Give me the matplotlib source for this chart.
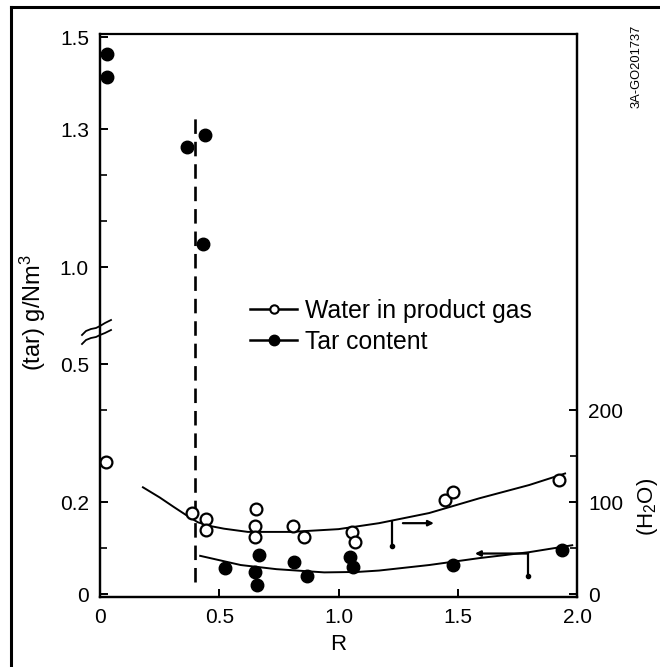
import numpy as np
import matplotlib
matplotlib.use("Agg")
import matplotlib.pyplot as plt
from matplotlib.lines import Line2D

plt.rcParams['font.family'] = ['Liberation Sans', 'DejaVu Sans']
plt.rcParams['mathtext.fontset'] = 'custom'
plt.rcParams['mathtext.rm'] = 'Liberation Sans'
plt.rcParams['mathtext.it'] = 'Liberation Sans:italic'
plt.rcParams['mathtext.default'] = 'regular'

# ---------------- data ----------------
# Water in product gas (open circles, right axis, H2O)
water_r = [0.025, 0.387, 0.444, 0.444, 0.654, 0.65, 0.65, 0.81, 0.855, 1.057, 1.07, 1.447, 1.48, 1.925]
water_h2o = [143, 88, 82, 69.6, 92, 74, 62, 74, 62, 67, 57, 102, 111, 124]
# fitted water curve
water_curve_r = [0.18, 0.25, 0.31, 0.36, 0.41, 0.46, 0.52, 0.62, 0.8, 1.0, 1.17, 1.38, 1.59, 1.8, 1.95]
water_curve_h2o = [116, 105, 94.5, 86, 78, 74, 71, 67.5, 67.5, 70.5, 77, 88, 104, 118.5, 131]

# Tar content (filled circles, left axis, g/Nm3)
tar_r = [0.03, 0.03, 0.363, 0.44, 0.432, 0.524, 0.667, 0.65, 0.658, 0.813, 0.868, 1.048, 1.06, 1.48, 1.937]
tar_val = [1.464, 1.414, 1.262, 1.288, 1.05, 0.057, 0.085, 0.048, 0.02, 0.07, 0.039, 0.08, 0.059, 0.063, 0.096]
# fitted tar curve
tar_curve_r = [0.42, 0.59, 0.74, 0.94, 1.08, 1.17, 1.38, 1.59, 1.8, 1.98]
tar_curve_val = [0.083, 0.063, 0.054, 0.047, 0.048, 0.051, 0.063, 0.078, 0.091, 0.106]

# limit marks
water_flag_r = 1.224
water_flag_h2o = [78, 52]
water_arrow_r = [1.27, 1.40]
water_arrow_h2o = 77
tar_flag_r = 1.795
tar_flag_val = [0.088, 0.040]
tar_arrow_r = [1.572, 1.795]
tar_arrow_val = 0.088

# dashed boundary line
boundary_r = 0.40
boundary_val = [0.026, 1.336]

x_ticks = [0, 0.5, 1.0, 1.5, 2.0]
x_ticklabels = ['0', '0.5', '1.0', '1.5', '2.0']
tar_ticks = [0, 0.2, 0.5, 1.0, 1.3, 1.5]
tar_ticklabels = ['0', '0.2', '0.5', '1.0', '1.3', '1.5']
tar_minor = [0.1, 0.4, 1.1, 1.2]
h2o_ticks = [0, 100, 200]
h2o_minor = [50, 150]

# ---------------- broken left scale ----------------
OFF, LO, HI = 0.29, 0.5, 1.0
COMP = (HI - OFF - LO) / (HI - LO)


def fwd(v):
    v = np.asarray(v, float)
    return np.where(v <= LO, v, np.where(v >= HI, v - OFF, LO + (v - LO) * COMP))


def inv(y):
    y = np.asarray(y, float)
    return np.where(y <= LO, y, np.where(y >= HI - OFF, y + OFF, LO + (y - LO) / COMP))


fig = plt.figure(figsize=(6.6, 6.67), dpi=100)
ax = fig.add_axes([100 / 660, 1 - 597 / 667, 477 / 660, 563 / 667])
ax.set_yscale('function', functions=(fwd, inv))
ylo_disp, yhi_disp = -0.0065, 1.2174
ax.set_ylim(float(inv(ylo_disp)), float(inv(yhi_disp)))
ax.set_xlim(0, 2.0)

ax2 = ax.twinx()
ax2.set_ylim(ylo_disp * 500, yhi_disp * 500)

# boundary dashed line
ax.plot([boundary_r, boundary_r], boundary_val, color='k', lw=1.9,
        ls=(0, (5.5, 3)), zorder=2)

# curves
ax2.plot(water_curve_r, water_curve_h2o, color='k', lw=1.4, zorder=3)
ax.plot(tar_curve_r, tar_curve_val, color='k', lw=1.4, zorder=3)

# points
ax2.plot(water_r, water_h2o, ls='none', marker='o', ms=8.5, mfc='white',
         mec='k', mew=1.6, zorder=4)
ax.plot(tar_r, tar_val, ls='none', marker='o', ms=9, mfc='k', mec='k', zorder=4)

# limit marks
ax2.plot([water_flag_r, water_flag_r], water_flag_h2o, color='k', lw=1.6)
ax2.plot([water_flag_r], [water_flag_h2o[1]], 'ko', ms=3)
ax2.annotate('', xy=(water_arrow_r[1], water_arrow_h2o), xytext=(water_arrow_r[0], water_arrow_h2o),
             arrowprops=dict(arrowstyle='-|>', color='k', lw=1.6, mutation_scale=8,
                             shrinkA=0, shrinkB=0))
ax.plot([tar_flag_r, tar_flag_r], tar_flag_val, color='k', lw=1.6)
ax.plot([tar_flag_r], [tar_flag_val[1]], 'ko', ms=3)
ax.annotate('', xy=(tar_arrow_r[0], tar_arrow_val), xytext=(tar_arrow_r[1], tar_arrow_val),
            arrowprops=dict(arrowstyle='-|>', color='k', lw=1.6, mutation_scale=8,
                            shrinkA=0, shrinkB=0))

# ticks
ax.set_xticks(x_ticks)
ax.set_xticklabels(x_ticklabels)
ax.set_yticks(tar_ticks)
ax.set_yticklabels(tar_ticklabels)
ax.set_yticks(tar_minor, minor=True)
ax.yaxis.set_minor_formatter(plt.NullFormatter())
ax.tick_params(axis='both', which='major', direction='in', length=6, width=1.4,
               labelsize=15, pad=8)
ax.tick_params(axis='y', which='minor', direction='in', length=5, width=1.2)
ax.tick_params(axis='x', which='minor', bottom=False)
ax2.set_yticks(h2o_ticks)
ax2.set_yticks(h2o_minor, minor=True)
ax2.yaxis.set_minor_formatter(plt.NullFormatter())
ax2.tick_params(axis='y', which='major', direction='in', length=6, width=1.4,
                labelsize=15, pad=8)
ax2.tick_params(axis='y', which='minor', direction='in', length=5, width=1.2)

for a in (ax, ax2):
    for s in a.spines.values():
        s.set_linewidth(1.6)
ax.spines['top'].set_linewidth(1.1)

# labels
ax.set_xlabel('R', fontsize=16)
ax.xaxis.set_label_coords(0.499, -0.066)
ax.set_ylabel('(tar) g/Nm$^3$', fontsize=17)
ax.yaxis.set_label_coords(-0.110, 0.505)
ax2.set_ylabel('(H$_2$O)', fontsize=16)
ax2.yaxis.set_label_coords(1.122, 0.16)

# axis break marks
bx = np.array([82, 86, 91, 96, 100, 105, 111])
by_up = np.array([335, 331, 329, 328, 326, 323, 320])
by_lo = np.array([344, 340, 338, 337, 335, 333, 330])
for by in (by_up, by_lo):
    ax.plot((bx - 100) / 477, (597 - by) / 563, color='k', lw=1.3,
            transform=ax.transAxes, clip_on=False)

# legend
handles = [
    Line2D([], [], color='k', lw=1.8, marker='o', ms=6, mfc='white', mec='k', mew=1.5),
    Line2D([], [], color='k', lw=1.8, marker='o', ms=7.5, mfc='k', mec='k'),
]
ax2.legend(handles, ['Water in product gas', 'Tar content'], loc='upper left',
           bbox_to_anchor=(0.3145, 0.530), frameon=False, borderpad=0,
           borderaxespad=0, handlelength=1.9, handletextpad=0.33,
           labelspacing=0.28, fontsize=17.8)

# document id
fig.text(637 / 660, 1 - 66 / 667, '3A-GO201737', rotation=90, fontsize=9.3,
         ha='center', va='center')

# page border lines
fig.add_artist(Line2D([11 / 660, 11 / 660], [0, 1 - 7 / 667], transform=fig.transFigure,
                      color='k', lw=2.2))
fig.add_artist(Line2D([11 / 660, 1], [1 - 7 / 667, 1 - 7 / 667], transform=fig.transFigure,
                      color='k', lw=2.2))

fig.savefig('out.png', dpi=100)
